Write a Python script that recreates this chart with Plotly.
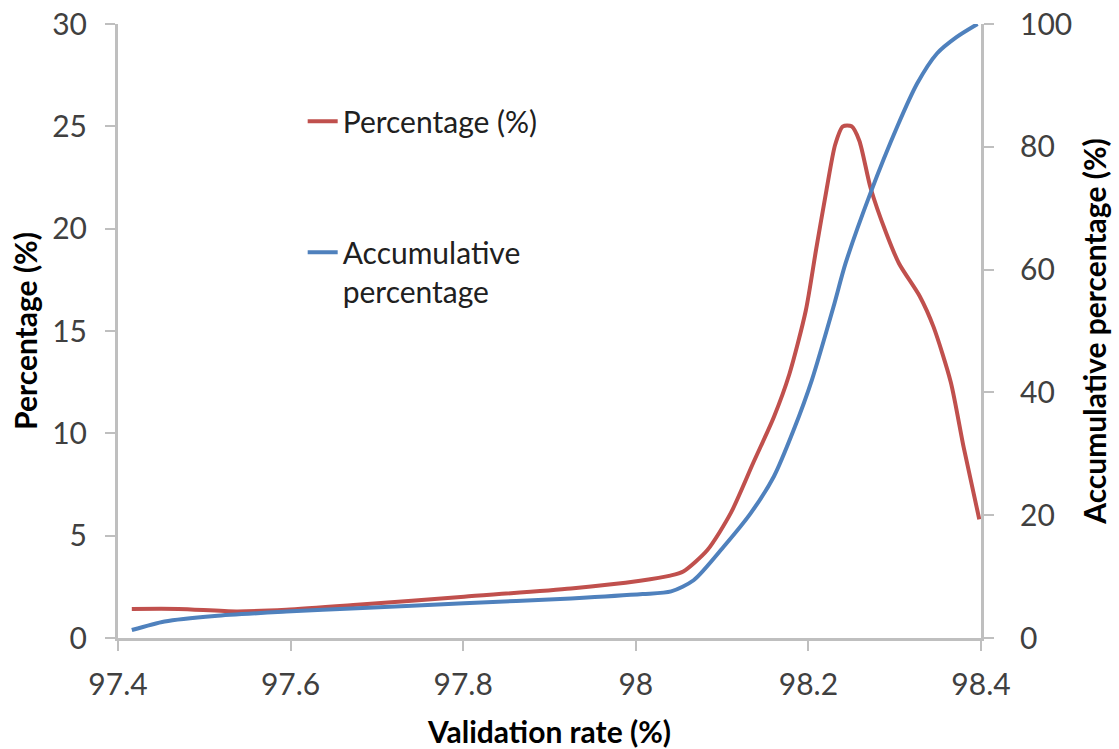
import plotly.graph_objects as go

# Validation-rate distribution: share per bin (left axis) and running total (right axis)
rate_pct = [97.416, 97.47, 97.537, 97.595, 97.677, 97.801, 97.925, 98.005, 98.04,
            98.055, 98.083, 98.110, 98.136, 98.160, 98.178, 98.197, 98.209,
            98.221, 98.231, 98.240, 98.250, 98.259, 98.272, 98.290, 98.305, 98.329, 98.345,
            98.365, 98.380, 98.398]
percentage = [1.42, 1.42, 1.30, 1.38, 1.62, 2.02, 2.42, 2.8, 3.05,
              3.25, 4.3, 6.1, 8.55, 10.8, 12.9, 16.0, 19.0,
              21.9, 24.1, 25.0, 25.0, 24.3, 22.0, 19.8, 18.3, 16.7, 15.2,
              12.5, 9.3, 5.8]

rate_acc = [97.416, 97.454, 97.512, 97.595, 97.677, 97.801, 97.925, 98.008, 98.041,
            98.067, 98.102, 98.133, 98.160, 98.183, 98.204, 98.229, 98.243, 98.272,
            98.303, 98.326, 98.349, 98.372, 98.396]
accumulative = [1.3, 2.7, 3.6, 4.3, 4.85, 5.65, 6.45, 7.15, 7.6,
                9.4, 14.9, 20.3, 26.3, 33.9, 42.0, 53.9, 61.0, 72.5,
                83.3, 90.3, 95.2, 97.9, 100.0]

x_ticks = [97.4, 97.6, 97.8, 98.0, 98.2, 98.4]
x_tick_text = ["97.4", "97.6", "97.8", "98", "98.2", "98.4"]
left_ticks = [0, 5, 10, 15, 20, 25, 30]
right_ticks = [0, 20, 40, 60, 80, 100]

RED = "#C0504D"
BLUE = "#4F81BD"
AXIS = "#BFBFBF"
FONT = "Lato"

fig = go.Figure()
fig.add_trace(go.Scatter(
    x=rate_pct, y=percentage, name="Percentage (%)", mode="lines",
    line=dict(color=RED, width=4, shape="spline", smoothing=0.7),
    legendgroup="a", cliponaxis=False,
))
fig.add_trace(go.Scatter(
    x=rate_acc, y=accumulative, name="Accumulative<br>percentage", mode="lines",
    line=dict(color=BLUE, width=4, shape="spline", smoothing=0.7),
    yaxis="y2", legendgroup="b", cliponaxis=False,
))

tick_font = dict(family=FONT, size=30, color="#404040")
title_font = dict(family=FONT, size=30, color="#000000", weight=700)

fig.update_layout(
    width=1119, height=749,
    margin=dict(l=118, r=138, t=24, b=111, autoexpand=False),
    paper_bgcolor="white", plot_bgcolor="white",
    showlegend=True,
    legend=dict(
        x=0.214, y=0.884, xanchor="left", yanchor="top",
        font=dict(family=FONT, size=30, color="#202020"),
        tracegroupgap=89, valign="top", bgcolor="rgba(0,0,0,0)",
    ),
    xaxis=dict(
        range=[97.4, 98.4], tickvals=x_ticks, ticktext=x_tick_text,
        showgrid=False, zeroline=False, showline=True, linecolor=AXIS, linewidth=3,
        ticks="outside", ticklen=10, tickwidth=2, tickcolor=AXIS,
        tickfont=tick_font, ticklabelstandoff=8,
        title=dict(text="Validation rate (%)", font=title_font, standoff=27),
    ),
    yaxis=dict(
        range=[0, 30], tickvals=left_ticks,
        showgrid=False, zeroline=False, showline=True, linecolor=AXIS, linewidth=3,
        ticks="outside", ticklen=10, tickwidth=2, tickcolor=AXIS,
        tickfont=tick_font, ticklabelstandoff=12,
        title=dict(text="Percentage (%)", font=title_font, standoff=6),
    ),
    yaxis2=dict(
        range=[0, 100], tickvals=right_ticks, overlaying="y", side="right",
        showgrid=False, zeroline=False, showline=True, linecolor=AXIS, linewidth=3,
        ticks="outside", ticklen=10, tickwidth=2, tickcolor=AXIS,
        tickfont=tick_font, ticklabelstandoff=20,
        title=dict(text="Accumulative percentage (%)", font=title_font, standoff=14),
    ),
)

fig.write_html("out.html")
